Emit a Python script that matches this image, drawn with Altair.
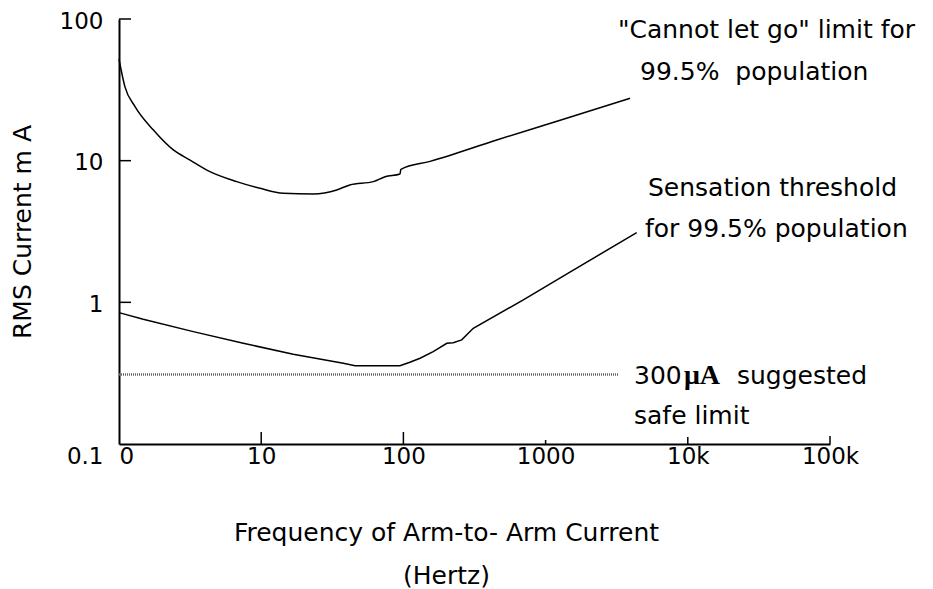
import altair as alt
import pandas as pd

# "Cannot let go" limit for 99.5% population
freq_letgo = [1, 1.10, 1.30, 1.74, 2.41, 3.16, 4.36, 6.72, 9.8, 14.3, 23.3, 34, 42, 61.4, 74.3, 94.6, 96, 154, 453, 1333, 3925]
curr_letgo = [52, 33.3, 24.0, 16.5, 11.9, 10.1, 8.36, 7.11, 6.38, 5.89, 5.82, 6.21, 6.74, 7.11, 7.71, 8.06, 8.69, 9.89, 14.0, 19.6, 27.6]

# Sensation threshold for 99.5% population
freq_sense = [1, 1.48, 3.33, 7.48, 16.8, 37.8, 45.7, 94.6, 111, 131, 162, 202, 224, 257, 310, 697, 1566, 4370]
curr_sense = [0.846, 0.760, 0.621, 0.514, 0.430, 0.372, 0.357, 0.357, 0.378, 0.403, 0.449, 0.514, 0.518, 0.543, 0.656, 1.04, 1.69, 3.10]

# 300 uA suggested safe limit
freq_safe = [1, 3230]
curr_safe = [0.31, 0.31]

x_tick_values = [1, 10, 100, 1000, 10000, 100000]
x_tick_labels = ["0", "10", "100", "1000", "10k", "100k"]
x_tick_lengths = [0, 12, 12, 4, 7, 8]
y_tick_values = [0.1, 1, 10, 100]
y_tick_labels = ["0.1", "1", "10", "100"]
y_tick_lengths = [0, 12, 12, 12]

W, H = 711, 425
FONT = "DejaVu Sans"
FS = 23
TFS = 25


def label_expr(values, labels):
    parts = [f"datum.value == {v} ? '{l}'" for v, l in zip(values, labels)]
    return " : ".join(parts) + " : ''"


xscale = alt.Scale(type="log", domain=[1, 100000], nice=False)
yscale = alt.Scale(type="log", domain=[0.1, 100], nice=False)

xaxis = alt.Axis(
    values=x_tick_values,
    labelExpr=label_expr(x_tick_values, x_tick_labels),
    ticks=False, grid=False, domainColor="black", domainWidth=2,
    labelFont=FONT, labelFontSize=FS, labelColor="black",
    labelPadding=1, labelBaseline="top", labelOverlap=False,
    labelAlign={"condition": {"test": "datum.value == 1", "value": "left"}, "value": "center"},
    title=["Frequency of Arm-to- Arm Current", "(Hertz)"],
    titleFont=FONT, titleFontSize=TFS, titleFontWeight="normal", titleColor="black",
    titleX=327, titleY=76, titleAnchor="middle", titleAlign="center",
    titleBaseline="top", titleLineHeight=43,
)
yaxis = alt.Axis(
    values=y_tick_values,
    labelExpr=label_expr(y_tick_values, y_tick_labels),
    ticks=False, grid=False, domainColor="black", domainWidth=2,
    labelFont=FONT, labelFontSize=FS, labelColor="black",
    labelPadding=16, labelOverlap=False,
    labelOffset={"condition": {"test": "datum.value < 0.5", "value": 12}, "value": 2},
    title="RMS Current m  A",
    titleFont=FONT, titleFontSize=TFS, titleFontWeight="normal", titleColor="black",
    titleX=-97, titleY=H / 2, titleAngle=270, titleBaseline="middle", titleAlign="center",
)

df_letgo = pd.DataFrame({"f": freq_letgo, "c": curr_letgo})
df_sense = pd.DataFrame({"f": freq_sense, "c": curr_sense})
df_safe = pd.DataFrame({"f": freq_safe, "c": curr_safe})

X = alt.X("f:Q", scale=xscale, axis=xaxis)
Y = alt.Y("c:Q", scale=yscale, axis=yaxis)

letgo = alt.Chart(df_letgo).mark_line(color="black", strokeWidth=1.5, interpolate="monotone").encode(x=X, y=Y)
sense = alt.Chart(df_sense).mark_line(color="black", strokeWidth=1.5).encode(x=X, y=Y)
safe = alt.Chart(df_safe).mark_line(color="#666666", strokeWidth=2.5, strokeDash=[1, 1]).encode(x=X, y=Y)

layers = [letgo, sense, safe]

# inward-pointing ticks
df_xt = pd.DataFrame({"f": x_tick_values, "len": x_tick_lengths})
for L in sorted(set(x_tick_lengths)):
    if L == 0:
        continue
    layers.append(
        alt.Chart(df_xt).transform_filter(f"datum.len == {L}")
        .mark_rule(color="black", strokeWidth=1.5)
        .encode(x=X, y=alt.value(H), y2=alt.value(H - L))
    )
df_yt = pd.DataFrame({"c": y_tick_values, "len": y_tick_lengths})
for L in sorted(set(y_tick_lengths)):
    if L == 0:
        continue
    layers.append(
        alt.Chart(df_yt).transform_filter(f"datum.len == {L}")
        .mark_rule(color="black", strokeWidth=1.5)
        .encode(y=Y, x=alt.value(0), x2=alt.value(L))
    )

# annotations (plot-area pixel positions)
annotations = [
    ("\"Cannot let go\" limit for", 618 - 119, 30 - 19, FONT, "normal", TFS),
    ("99.5%\u00a0 population", 640 - 119, 72 - 19, FONT, "normal", TFS),
    ("Sensation threshold", 648 - 119, 188 - 19, FONT, "normal", TFS),
    ("for 99.5% population", 645 - 119, 229 - 19, FONT, "normal", TFS),
    ("300", 634 - 119, 376 - 19, FONT, "normal", TFS),
    ("\u03bcA", 684 - 119, 376 - 19, "Liberation Serif", "bold", TFS + 3),
    ("suggested", 737 - 119, 376 - 19, FONT, "normal", TFS),
    ("safe limit", 634 - 119, 416 - 19, FONT, "normal", TFS),
]
for txt, ax, ay, fnt, fw, fs in annotations:
    layers.append(
        alt.Chart(pd.DataFrame({"t": [txt]})).mark_text(
            align="left", baseline="middle", font=fnt, fontWeight=fw, fontSize=fs, color="black"
        ).encode(x=alt.value(ax), y=alt.value(ay), text="t:N")
    )

chart = alt.layer(*layers).properties(
    width=W, height=H,
    autosize=alt.AutoSizeParams(type="none"),
    padding={"left": 119, "top": 19, "right": 103, "bottom": 145},
    background="white",
).configure_view(stroke=None)

chart.save("out.html", embed_options={"renderer": "svg", "actions": False})
